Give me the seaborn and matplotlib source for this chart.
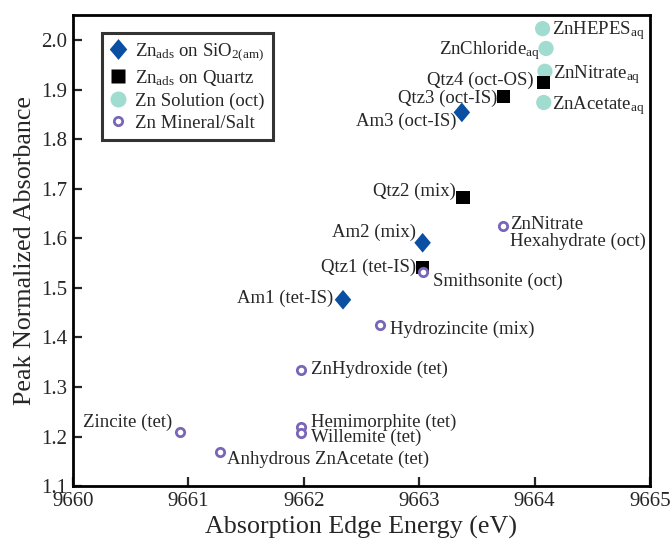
import matplotlib
matplotlib.use("Agg")
import matplotlib.pyplot as plt
import seaborn as sns
import pandas as pd
from matplotlib.lines import Line2D

sns.set_style("white")
plt.rcParams["font.family"] = ["Liberation Serif", "DejaVu Serif"]
plt.rcParams["mathtext.fontset"] = "custom"
plt.rcParams["mathtext.rm"] = "Liberation Serif"
plt.rcParams["mathtext.it"] = "Liberation Serif:italic"

# Zn adsorbed on amorphous silica
am_names = ["Am1 (tet-IS)", "Am2 (mix)", "Am3 (oct-IS)"]
am_edge = [9662.34, 9663.03, 9663.37]
am_abs = [1.476, 1.591, 1.854]

# Zn adsorbed on quartz
qtz_names = ["Qtz1 (tet-IS)", "Qtz2 (mix)", "Qtz3 (oct-IS)", "Qtz4 (oct-OS)"]
qtz_edge = [9663.03, 9663.38, 9663.73, 9664.08]
qtz_abs = [1.542, 1.683, 1.887, 1.915]

# Aqueous Zn solutions
sol_names = [r"ZnHEPES$_{\mathrm{aq}}$", r"ZnChloride$_{\mathrm{aq}}$",
             r"ZnNitrate$_{\mathrm{aq}}$", r"ZnAcetate$_{\mathrm{aq}}$"]
sol_edge = [9664.07, 9664.10, 9664.09, 9664.08]
sol_abs = [2.023, 1.983, 1.937, 1.874]

# Zn minerals and salts
min_names = ["ZnNitrate\nHexahydrate (oct)", "Smithsonite (oct)", "Hydrozincite (mix)",
             "ZnHydroxide (tet)", "Zincite (tet)", "Hemimorphite (tet)",
             "Willemite (tet)", "Anhydrous ZnAcetate (tet)"]
min_edge = [9663.73, 9663.03, 9662.66, 9661.98, 9660.93, 9661.98, 9661.98, 9661.27]
min_abs = [1.625, 1.533, 1.425, 1.335, 1.210, 1.219, 1.207, 1.168]

x_ticks = [9660, 9661, 9662, 9663, 9664, 9665]
y_ticks = [1.1, 1.2, 1.3, 1.4, 1.5, 1.6, 1.7, 1.8, 1.9, 2.0]

blue = "#0b4fa3"
teal = "#a0dccf"
purple = "#7a66b8"
diamond = [(0, 1), (0.84, 0), (0, -1), (-0.84, 0)]

am = pd.DataFrame({"edge": am_edge, "abs": am_abs, "name": am_names})
qtz = pd.DataFrame({"edge": qtz_edge, "abs": qtz_abs, "name": qtz_names})
sol = pd.DataFrame({"edge": sol_edge, "abs": sol_abs, "name": sol_names})
mins = pd.DataFrame({"edge": min_edge, "abs": min_abs, "name": min_names})

fig = plt.figure(figsize=(6.7, 5.45), dpi=100)
ax = fig.add_axes([0.109, 0.108, 0.861, 0.864])

sns.scatterplot(data=am, x="edge", y="abs", ax=ax, marker=diamond, s=200,
                color=blue, edgecolor="none", zorder=3)
sns.scatterplot(data=sol, x="edge", y="abs", ax=ax, marker="o", s=120,
                color=teal, edgecolor="none", zorder=3)
sns.scatterplot(data=qtz, x="edge", y="abs", ax=ax, marker="s", s=88,
                color="black", edgecolor="none", zorder=4)
sns.scatterplot(data=mins, x="edge", y="abs", ax=ax, marker="o", s=36,
                facecolor="white", edgecolor=purple, linewidth=2.0, zorder=5)

# label offsets in pixels (dx, dy) and horizontal alignment
offsets = {
    "Am1 (tet-IS)": (-10, 1, "right"),
    "Am2 (mix)": (-7, 10, "right"),
    "Am3 (oct-IS)": (-5, -9, "right"),
    "Qtz1 (tet-IS)": (-6, 0, "right"),
    "Qtz2 (mix)": (-7, 6, "right"),
    "Qtz3 (oct-IS)": (-6, -2, "right"),
    "Qtz4 (oct-OS)": (-10, 2, "right"),
    sol_names[0]: (9, -2, "left"),
    sol_names[1]: (-6, -2, "right"),
    sol_names[2]: (8, -3, "left"),
    sol_names[3]: (8, -3, "left"),
    min_names[0]: (7, -7, "left"),
    min_names[1]: (10, -10, "left"),
    min_names[2]: (10, -4, "left"),
    min_names[3]: (10, 0, "left"),
    min_names[4]: (-8, 9, "right"),
    min_names[5]: (10, 5, "left"),
    min_names[6]: (10, -4, "left"),
    min_names[7]: (7, -7, "left"),
}

for df in (am, qtz, sol, mins):
    for _, r in df.iterrows():
        dx, dy, ha = offsets[r["name"]]
        ax.annotate(r["name"], (r["edge"], r["abs"]), xytext=(dx, dy),
                    textcoords="offset pixels", ha=ha, va="center",
                    fontsize=13.5, linespacing=0.95, zorder=6)

ax.set_xlim(9660, 9665)
ax.set_ylim(1.1, 2.05)
ax.set_xticks(x_ticks)
ax.set_yticks(y_ticks)
ax.set_yticklabels([f"{v:.1f}" for v in y_ticks])
ax.tick_params(axis="both", direction="in", length=6.5, width=1.6,
               labelsize=15, left=True, bottom=True, top=False, right=False, pad=4)
for sp in ax.spines.values():
    sp.set_linewidth(2.0)
    sp.set_color("black")

ax.set_xlabel("Absorption Edge Energy (eV)", fontsize=18.7, labelpad=4)
ax.set_ylabel("Peak Normalized Absorbance", fontsize=18.7, labelpad=4)

handles = [
    Line2D([], [], ls="none", marker=diamond, ms=15, color=blue, mec="none"),
    Line2D([], [], ls="none", marker="s", ms=10, color="black", mec="none"),
    Line2D([], [], ls="none", marker="o", ms=11.5, color=teal, mec="none"),
    Line2D([], [], ls="none", marker="o", ms=6, mfc="white", mec=purple, mew=2.0),
]
labels = [r"Zn$_{\mathrm{ads}}$ on SiO$_{2\mathrm{(am)}}$",
          r"Zn$_{\mathrm{ads}}$ on Quartz",
          "Zn Solution (oct)",
          "Zn Mineral/Salt"]
leg = ax.legend(handles, labels, loc="upper left", bbox_to_anchor=(0.05, 0.962),
                fontsize=13.5, frameon=True, fancybox=False, handlelength=0.8,
                handletextpad=0.5, borderpad=0.45, labelspacing=0.25,
                borderaxespad=0)
leg.get_frame().set_edgecolor("black")
leg.get_frame().set_linewidth(2.2)

fig.savefig("out.png", dpi=100)
